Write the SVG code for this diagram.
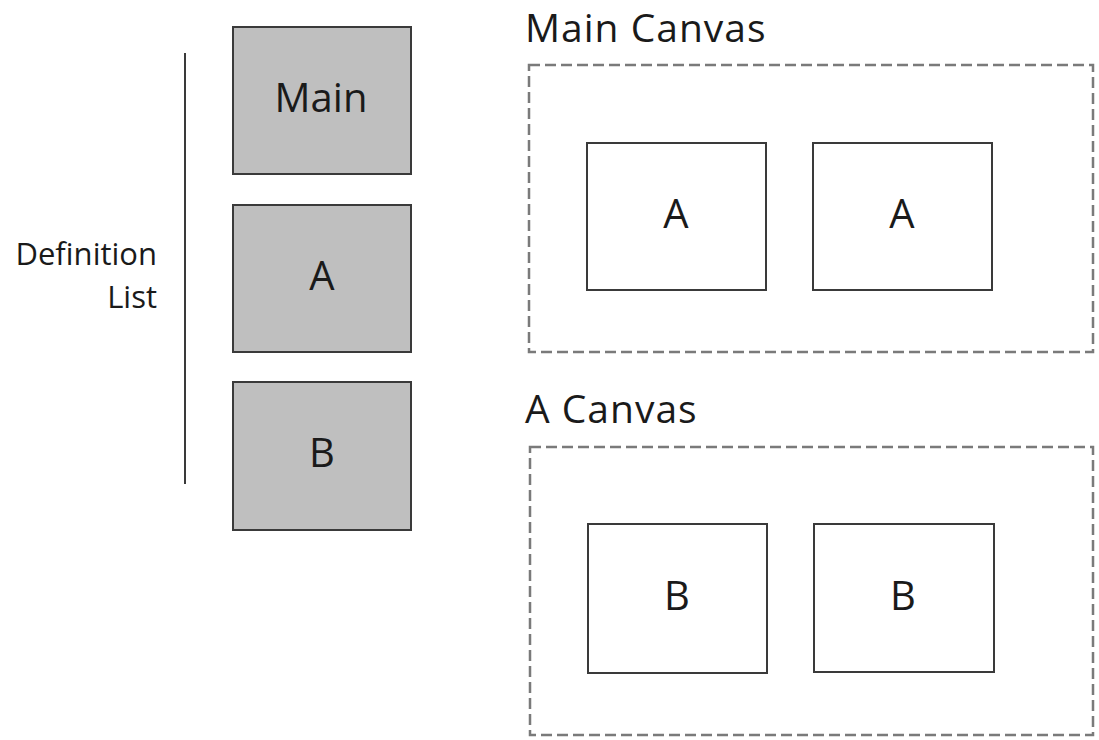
<svg xmlns="http://www.w3.org/2000/svg" width="1099" height="740" viewBox="0 0 1099 740">
<style>
.def{fill:#bfbfbf;stroke:#3a3a3a;stroke-width:2}
.inst{fill:#fff;stroke:#3a3a3a;stroke-width:2}
.canvas{fill:none;stroke:#7a7a7a;stroke-width:2.5;stroke-dasharray:11 5}
.t{font-family:"Open Sans","Liberation Sans",sans-serif;fill:#1a1a1a}
.lbl{font-size:40px;text-anchor:middle}
.title{font-size:39px;letter-spacing:1px}
.side{font-size:31px;text-anchor:end}
</style>
<rect width="1099" height="740" fill="#fff"/>
<g id="connectors">
<line x1="185" y1="53" x2="185" y2="484" stroke="#3a3a3a" stroke-width="2"/>
</g>
<g id="definition-label"><text class="t side" x="157" y="265">Definition</text><text class="t side" x="157" y="308">List</text></g>
<g id="def-main"><rect class="def" x="233" y="27" width="178" height="147"/><text class="t lbl" x="321" y="112">Main</text></g>
<g id="def-a"><rect class="def" x="233" y="205" width="178" height="147"/><text class="t lbl" x="322" y="290">A</text></g>
<g id="def-b"><rect class="def" x="233" y="382" width="178" height="148"/><text class="t lbl" x="322" y="467">B</text></g>
<g id="main-canvas"><text class="t title" x="525" y="42">Main Canvas</text><rect class="canvas" x="529" y="65" width="564" height="287"/></g>
<g id="main-a1"><rect class="inst" x="587" y="143" width="179" height="147"/><text class="t lbl" x="676" y="228">A</text></g>
<g id="main-a2"><rect class="inst" x="813" y="143" width="179" height="147"/><text class="t lbl" x="902" y="228">A</text></g>
<g id="a-canvas"><text class="t title" x="525" y="423">A Canvas</text><rect class="canvas" x="530" y="447" width="563" height="288"/></g>
<g id="a-b1"><rect class="inst" x="588" y="524" width="179" height="149"/><text class="t lbl" x="677" y="610">B</text></g>
<g id="a-b2"><rect class="inst" x="814" y="524" width="180" height="148"/><text class="t lbl" x="903" y="610">B</text></g>
</svg>
